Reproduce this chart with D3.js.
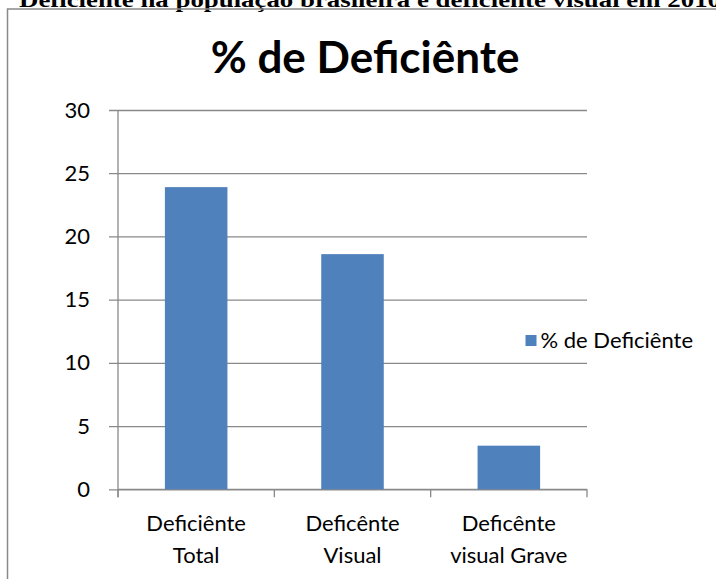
<!DOCTYPE html>
<html>
<head>
<meta charset="utf-8">
<script src="https://cdn.jsdelivr.net/npm/d3@7"></script>
<style>
  html, body { margin: 0; padding: 0; background: #fff; }
</style>
</head>
<body>
<div id="chart"></div>
<script>
// data
const categories = ["Deficiênte Total", "Deficênte Visual", "Deficênte visual Grave"]
const categoryLines = [["Deficiênte", "Total"], ["Deficênte", "Visual"], ["Deficênte", "visual Grave"]]
const values = [23.9, 18.6, 3.45]
const yTicks = [0, 5, 10, 15, 20, 25, 30]
const seriesName = "% de Deficiênte"
const pageTitle = "Deficiente na população brasileira e deficiente visual em 2010"

const width = 716
const height = 579
const font = "Lato, 'Open Sans', sans-serif"
const barColor = "#4f81bd"
const gridColor = "#898989"
const labelSize = 22

const svg = d3.select("#chart")
  .append("svg")
  .attr("width", width)
  .attr("height", height)
  .style("display", "block")
  .style("background", "#fff")

// heading of the document, cut at top
svg.append("text")
  .attr("x", 19)
  .attr("y", 7)
  .attr("font-family", "'Liberation Serif', 'Times New Roman', serif")
  .attr("font-weight", "bold")
  .attr("font-size", 22)
  .attr("textLength", 702)
  .attr("lengthAdjust", "spacingAndGlyphs")
  .attr("fill", "#000")
  .text(pageTitle)

// chart frame (runs off the page on right and bottom)
svg.append("rect")
  .attr("x", 7.5)
  .attr("y", 9)
  .attr("width", 760)
  .attr("height", 620)
  .attr("fill", "none")
  .attr("stroke", gridColor)
  .attr("stroke-width", 1.5)

// scales
const x = d3.scaleBand()
  .domain(categories)
  .range([118, 587])
  .paddingInner(0.6)
  .paddingOuter(0.3)

const y = d3.scaleLinear()
  .domain([0, 30])
  .range([489.3, 110])

// gridlines + y axis
const yAxis = d3.axisLeft(y)
  .tickValues(yTicks)
  .tickSize(-(587 - 118))
  .tickSizeOuter(0)
  .tickPadding(28)

const gy = svg.append("g")
  .attr("transform", "translate(118,0)")
  .call(yAxis)
gy.select(".domain").remove()
gy.selectAll(".tick line")
  .attr("x1", -9)
  .attr("stroke", gridColor)
  .attr("stroke-width", 1.3)
gy.selectAll(".tick text")
  .attr("font-family", font)
  .attr("font-size", labelSize)
  .attr("fill", "#000")

// y axis line
svg.append("line")
  .attr("x1", 118).attr("x2", 118)
  .attr("y1", y(30)).attr("y2", y(0) + 8)
  .attr("stroke", gridColor)
  .attr("stroke-width", 1.3)

// x axis line + ticks at band boundaries
svg.append("line")
  .attr("x1", 118).attr("x2", 587)
  .attr("y1", y(0)).attr("y2", y(0))
  .attr("stroke", gridColor)
  .attr("stroke-width", 1.3)

const boundaries = categories.map(c => x(c) - x.step() * x.paddingOuter()).concat([587])
svg.append("g")
  .selectAll("line")
  .data(boundaries)
  .join("line")
  .attr("x1", d => d).attr("x2", d => d)
  .attr("y1", y(0)).attr("y2", y(0) + 8)
  .attr("stroke", gridColor)
  .attr("stroke-width", 1.3)

// bars
svg.append("g")
  .selectAll("rect")
  .data(values)
  .join("rect")
  .attr("x", (d, i) => x(categories[i]))
  .attr("y", d => y(d))
  .attr("width", x.bandwidth())
  .attr("height", d => y(0) - y(d))
  .attr("fill", barColor)

// category labels
const lbl = svg.append("g")
  .selectAll("text")
  .data(categoryLines)
  .join("text")
  .attr("text-anchor", "middle")
  .attr("font-family", font)
  .attr("font-size", labelSize)
  .attr("fill", "#000")
  .attr("x", (d, i) => x(categories[i]) + x.bandwidth() / 2)
  .attr("y", 531)
lbl.selectAll("tspan")
  .data(d => d)
  .join("tspan")
  .attr("x", function () { return this.parentNode.getAttribute("x") })
  .attr("dy", (d, i) => i === 0 ? 0 : 32)
  .text(d => d)

// title
svg.append("text")
  .attr("x", 365)
  .attr("y", 73)
  .attr("text-anchor", "middle")
  .attr("font-family", font)
  .attr("font-weight", "bold")
  .attr("font-size", 44)
  .attr("fill", "#000")
  .text(seriesName)

// legend: text ends near the right of the page, square sits before it
const legend = svg.append("g")
const legText = legend.append("text")
  .attr("x", 693)
  .attr("y", 348)
  .attr("text-anchor", "end")
  .attr("font-family", font)
  .attr("font-size", labelSize)
  .attr("fill", "#000")
  .text(seriesName)
const legStart = 693 - legText.node().getComputedTextLength()
legend.append("rect")
  .attr("x", legStart - 15)
  .attr("y", 335)
  .attr("width", 11)
  .attr("height", 11)
  .attr("fill", barColor)
</script>
</body>
</html>
